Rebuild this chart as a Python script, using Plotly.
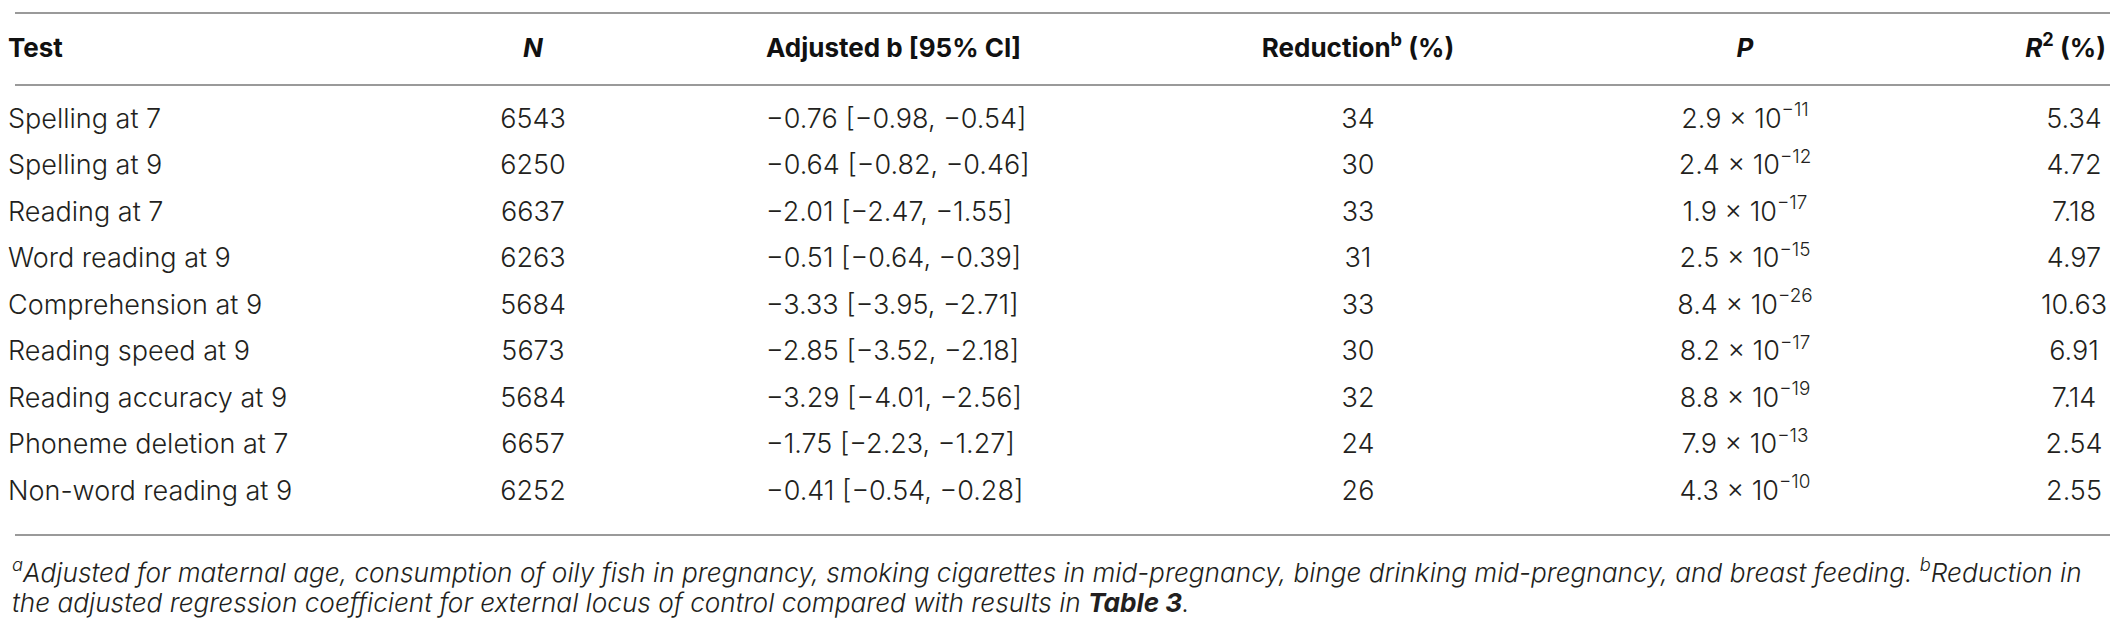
"""Table: adjusted regression of reading/spelling tests on external locus of control.

Rebuilt as a plotly figure: text marks on a hidden pixel-scaled axis pair,
with horizontal rules as shapes and footnotes as annotations.
"""

import plotly.graph_objects as go

# ---- data -----------------------------------------------------------------
tests = [
    "Spelling at 7",
    "Spelling at 9",
    "Reading at 7",
    "Word reading at 9",
    "Comprehension at 9",
    "Reading speed at 9",
    "Reading accuracy at 9",
    "Phoneme deletion at 7",
    "Non-word reading at 9",
]
n_values = [6543, 6250, 6637, 6263, 5684, 5673, 5684, 6657, 6252]
b_adj = [-0.76, -0.64, -2.01, -0.51, -3.33, -2.85, -3.29, -1.75, -0.41]
ci_low = [-0.98, -0.82, -2.47, -0.64, -3.95, -3.52, -4.01, -2.23, -0.54]
ci_high = [-0.54, -0.46, -1.55, -0.39, -2.71, -2.18, -2.56, -1.27, -0.28]
reduction = [34, 30, 33, 31, 33, 30, 32, 24, 26]
p_mantissa = [2.9, 2.4, 1.9, 2.5, 8.4, 8.2, 8.8, 7.9, 4.3]
p_exponent = [-11, -12, -17, -15, -26, -17, -19, -13, -10]
r2 = [5.34, 4.72, 7.18, 4.97, 10.63, 6.91, 7.14, 2.54, 2.55]

headers = [
    "Test",
    "<i>N</i>",
    "Adjusted b [95% CI]",
    "Reduction<sup>b</sup> (%)",
    "<i>P</i>",
    "<i>R</i><sup>2</sup> (%)",
]
footnote_1 = (
    "<sup>a</sup>Adjusted for maternal age, consumption of oily fish in pregnancy, "
    "smoking cigarettes in mid-pregnancy, binge drinking mid-pregnancy, and breast "
    "feeding. <sup>b</sup>Reduction in"
)
footnote_2 = (
    "the adjusted regression coefficient for external locus of control compared "
    "with results in <b>Table 3</b>."
)


def num(v, fmt="{:.2f}"):
    return fmt.format(v).replace("-", "\u2212")


cells = [
    tests,
    [str(n) for n in n_values],
    [f"{num(b)} [{num(lo)}, {num(hi)}]" for b, lo, hi in zip(b_adj, ci_low, ci_high)],
    [str(r) for r in reduction],
    [f"{m:.1f} \u00d7 10<sup>{num(e, '{:d}')}</sup>" for m, e in zip(p_mantissa, p_exponent)],
    [f"{v:.2f}" for v in r2],
]

# ---- layout (pixel space of a 2118 x 618 canvas) ---------------------------
W, H = 2118, 618
col_x = [0, 525, 758, 1350, 1737, 2066]
col_pos = ["middle right", "middle center", "middle right",
           "middle center", "middle center", "middle center"]
head_x = [0, 525, 758, 1350, 1737, 2098]
head_pos = ["middle right", "middle center", "middle right",
            "middle center", "middle center", "middle left"]
header_y = 42
row0_y, row_h = 113, 46.5
rules_y = [5, 77, 527]
rule_x0, rule_x1 = 7, 2112

FONT = "Inter"
TEXT_COL = "#231f20"

fig = go.Figure()

for j, col in enumerate(cells):
    ys = [row0_y + row_h * i for i in range(len(col))]
    fig.add_trace(
        go.Scatter(
            x=[col_x[j]] * len(col),
            y=ys,
            mode="text",
            text=col,
            textposition=col_pos[j],
            textfont={"family": FONT, "size": 27, "color": TEXT_COL, "weight": 300},
            cliponaxis=False,
            hoverinfo="skip",
            showlegend=False,
        )
    )
    fig.add_trace(
        go.Scatter(
            x=[head_x[j]],
            y=[header_y],
            mode="text",
            text=[headers[j]],
            textposition=head_pos[j],
            textfont={"family": FONT, "size": 26, "color": "#111111", "weight": 700},
            cliponaxis=False,
            hoverinfo="skip",
            showlegend=False,
        )
    )

for y in rules_y:
    fig.add_shape(
        type="line", xref="x", yref="y",
        x0=rule_x0, x1=rule_x1, y0=y, y1=y,
        line={"color": "#9a9a9a", "width": 2},
    )

for txt, y in [(footnote_1, 562), (footnote_2, 594)]:
    fig.add_annotation(
        x=2, y=y, xref="x", yref="y",
        text=txt, showarrow=False,
        xanchor="left", yanchor="middle",
        font={"family": FONT, "size": 26.2, "color": TEXT_COL,
              "style": "italic", "weight": 300},
    )

fig.update_layout(
    width=W,
    height=H,
    margin={"l": 0, "r": 0, "t": 0, "b": 0},
    paper_bgcolor="white",
    plot_bgcolor="white",
    xaxis={"range": [0, W], "visible": False, "fixedrange": True},
    yaxis={"range": [H, 0], "visible": False, "fixedrange": True},
)

fig.write_html("out.html")
